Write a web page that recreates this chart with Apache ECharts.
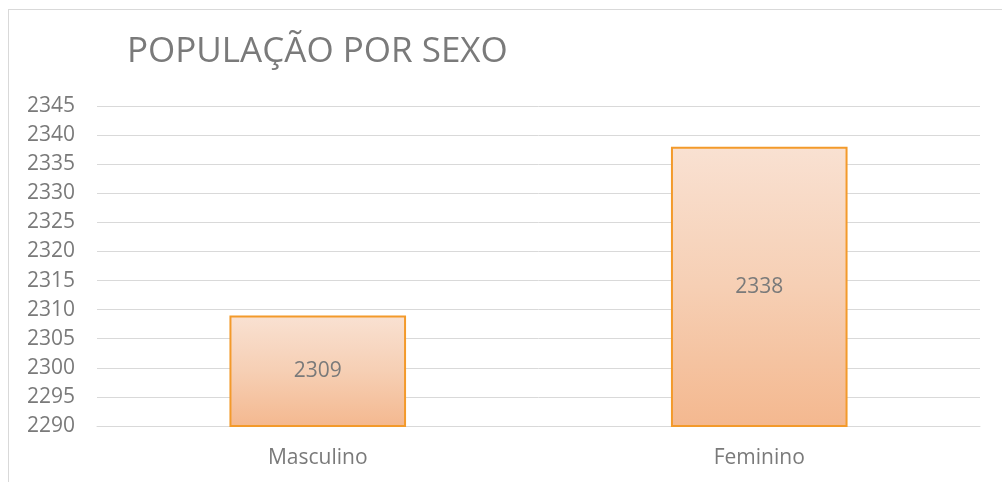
<!DOCTYPE html>
<html>
<head>
    <meta charset="utf-8">
    <title>ECharts</title>
    <script src="https://cdn.jsdelivr.net/npm/echarts@6/dist/echarts.min.js"></script>
    <style>
        html, body { margin: 0; padding: 0; background: #fff; }
    </style>
</head>
<body>
<div id="main" style="width:1002px;height:482px;"></div>
<script type="text/javascript">
    // dados do gráfico
    var categorias = ['Masculino', 'Feminino'];
    var populacao = [2309, 2338];
    var eixoMin = 2290, eixoMax = 2345, eixoPasso = 5;

    var fonte = '"Open Sans", "Noto Sans", sans-serif';
    var cinza = '#7a7a7a';
    var chart = echarts.init(document.getElementById('main'));
    var option = {
        backgroundColor: '#fff',
        animation: false,
        title: {
            text: 'POPULAÇÃO POR SEXO',
            left: 122,
            top: 30,
            textStyle: { fontFamily: fonte, fontSize: 35, fontWeight: 'normal', color: cinza }
        },
        graphic: [
            { type: 'line', shape: { x1: 8, y1: 9.5, x2: 1002, y2: 9.5 }, style: { stroke: '#d9d9d9', lineWidth: 1 } },
            { type: 'line', shape: { x1: 8.5, y1: 9, x2: 8.5, y2: 482 }, style: { stroke: '#d9d9d9', lineWidth: 1 } }
        ],
        grid: { left: 97, right: 22, top: 106, bottom: 56 },
        xAxis: {
            type: 'category',
            data: categorias,
            axisLine: { show: true, lineStyle: { color: '#d9d9d9', width: 1 } },
            axisTick: { show: false },
            axisLabel: { fontFamily: fonte, fontSize: 21, color: cinza, margin: 22 }
        },
        yAxis: {
            type: 'value',
            min: eixoMin,
            max: eixoMax,
            interval: eixoPasso,
            axisLine: { show: false },
            axisTick: { show: false },
            axisLabel: {
                fontFamily: fonte, fontSize: 21, color: cinza, margin: 22,
                formatter: function (v) { return String(v); }
            },
            splitLine: { lineStyle: { color: '#d9d9d9', width: 1 } }
        },
        series: [{
            type: 'bar',
            data: populacao,
            barWidth: '40%',
            itemStyle: {
                color: new echarts.graphic.LinearGradient(0, 0, 0, 1, [
                    { offset: 0, color: '#f9e1d2' },
                    { offset: 0.5, color: '#f6cfb4' },
                    { offset: 1, color: '#f4b88f' }
                ]),
                borderColor: '#f39a2b',
                borderWidth: 2
            },
            label: {
                show: true,
                position: 'inside',
                fontFamily: fonte,
                fontSize: 21,
                color: cinza
            }
        }]
    };
    chart.setOption(option);
</script>
</body>
</html>
